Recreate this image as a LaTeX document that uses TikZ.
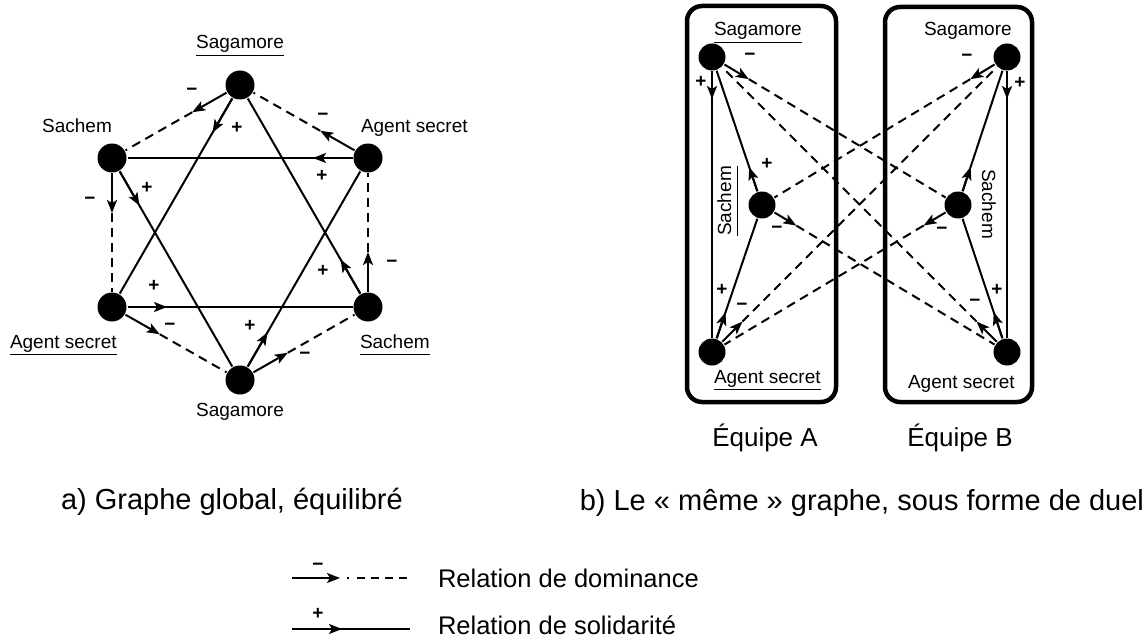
\documentclass[tikz,border=0pt]{standalone}
\usepackage{fontspec}
\setmainfont{Liberation Sans}
\usetikzlibrary{arrows.meta,calc}

% underlined label with a thick rule set just below the descenders
\newcommand{\undertext}[1]{\setbox0\hbox{#1}\leavevmode\rlap{\raisebox{-7.4pt}{\rule{\wd0}{1.8pt}}}\box0}

% dominance: short solid arrow leaving the source, dashed to the target
\newcommand{\domedge}[3]{%
  \coordinate (#1-#2) at ($(#1)!#3!(#2)$);
  \draw[arrtip] (#1) -- (#1-#2);
  \draw[dashline] (#1-#2) -- (#2);}
% solidarity: solid line with the arrow head near the source
\newcommand{\soledge}[3]{%
  \coordinate (#1-#2) at ($(#1)!#3!(#2)$);
  \draw (#1) -- (#2);
  \draw[arrtip] (#1) -- (#1-#2);}

\begin{document}
\begin{tikzpicture}[x=1pt,y=-1pt,line width=2pt,
  arrtip/.style={-{Stealth[length=13pt,width=10pt,inset=3pt]}},
  dashline/.style={dash pattern=on 9pt off 6pt},
  vtx/.style={circle,fill=black,minimum size=29pt,inner sep=0pt},
  vtxr/.style={circle,fill=black,minimum size=27pt,inner sep=0pt},
  lbl/.style={font=\fontsize{19}{22}\selectfont,inner sep=0pt},
  sgn/.style={font=\fontsize{19}{22}\selectfont\bfseries,inner sep=0pt},
  teamtxt/.style={font=\fontsize{26}{30}\selectfont,inner sep=0pt},
  captxt/.style={font=\fontsize{29}{34}\selectfont,inner sep=0pt},
  legtxt/.style={font=\fontsize{25.5}{30}\selectfont,inner sep=0pt},
  teambox/.style={line width=4.5pt,rounded corners=15pt}]
\useasboundingbox (0,0) rectangle (1147,639);

% ---------- a) global graph ----------
\node[vtx] (Sg1) at (240,85) {};
\node[vtx] (Sc1) at (112,158) {};
\node[vtx] (As1) at (368,158) {};
\node[vtx] (As2) at (112,307) {};
\node[vtx] (Sc2) at (368,307) {};
\node[vtx] (Sg2) at (240,380) {};

\domedge{Sg1}{Sc1}{55pt}
\domedge{As1}{Sg1}{55pt}
\domedge{Sc1}{As2}{55pt}
\domedge{Sc2}{As1}{55pt}
\domedge{As2}{Sg2}{55pt}
\domedge{Sg2}{Sc2}{55pt}
\soledge{Sg1}{As2}{55pt}
\soledge{As1}{Sc1}{55pt}
\soledge{Sc1}{Sg2}{55pt}
\soledge{Sc2}{Sg1}{55pt}
\soledge{As2}{Sc2}{55pt}
\soledge{Sg2}{As1}{55pt}

\node[sgn] (m1) at (192,92) {−};
\node[sgn] (p1) at (237,128) {+};
\node[sgn] (m2) at (323,117) {−};
\node[sgn] (p2) at (322,176) {+};
\node[sgn] (m3) at (90,201) {−};
\node[sgn] (p3) at (147,188) {+};
\node[sgn] (m4) at (392,264) {−};
\node[sgn] (p4) at (323,271) {+};
\node[sgn] (p5) at (154,286) {+};
\node[sgn] (m5) at (170,327) {−};
\node[sgn] (p6) at (250,326) {+};
\node[sgn] (m6) at (305,356) {−};

\node[lbl,anchor=base] (tSg1) at (240,49) {\undertext{Sagamore}};
\node[lbl,anchor=base] (tSc1) at (77,133) {Sachem};
\node[lbl,anchor=base west] (tAs1) at (360,133) {Agent secret};
\node[lbl,anchor=base west] (tAs2) at (9,348) {\undertext{Agent secret}};
\node[lbl,anchor=base west] (tSc2) at (359,348) {\undertext{Sachem}};
\node[lbl,anchor=base] (tSg2) at (240,416) {Sagamore};

% ---------- b) duel ----------
\draw[teambox] (687,6) rectangle (836,402);
\draw[teambox] (885,7) rectangle (1032,402);

\node[vtxr] (SgA) at (712,57) {};
\node[vtxr] (ScA) at (762,205) {};
\node[vtxr] (AsA) at (712,352) {};
\node[vtxr] (SgB) at (1007,57) {};
\node[vtxr] (ScB) at (958,205) {};
\node[vtxr] (AsB) at (1007,352) {};

\soledge{SgA}{AsA}{42pt}
\soledge{AsA}{ScA}{42pt}
\soledge{ScA}{SgA}{40pt}
\soledge{SgB}{AsB}{42pt}
\soledge{AsB}{ScB}{42pt}
\soledge{ScB}{SgB}{40pt}
\domedge{SgA}{ScB}{43pt}
\domedge{ScA}{AsB}{40pt}
\domedge{AsA}{SgB}{43pt}
\domedge{SgB}{ScA}{43pt}
\domedge{ScB}{AsA}{40pt}
\domedge{AsB}{SgA}{43pt}

\node[sgn] (pA1) at (701,82) {+};
\node[sgn] (mA1) at (750,57) {−};
\node[sgn] (pA2) at (767,164) {+};
\node[sgn] (mA2) at (777,230) {−};
\node[sgn] (pA3) at (722,290) {+};
\node[sgn] (mA3) at (742,307) {−};
\node[sgn] (pB1) at (1020,83) {+};
\node[sgn] (mB1) at (967,58) {−};
\node[sgn] (mB2) at (942,231) {−};
\node[sgn] (pB3) at (997,290) {+};
\node[sgn] (mB3) at (975,303) {−};

\node[lbl,anchor=base west] (tSgA) at (713,36) {\undertext{Sagamore}};
\node[lbl,anchor=base west] (tAsA) at (713,383) {\undertext{Agent secret}};
\node[lbl,rotate=90,anchor=base] (tScA) at (731,201) {\undertext{Sachem}};
\node[lbl,anchor=base west] (tSgB) at (923,36) {Sagamore};
\node[lbl,anchor=base west] (tAsB) at (907,388) {Agent secret};
\node[lbl,rotate=-90,anchor=base] (tScB) at (982,204) {Sachem};

\node[teamtxt,anchor=base] (eqA) at (765,446) {Équipe A};
\node[teamtxt,anchor=base] (eqB) at (960,446) {Équipe B};

% ---------- captions ----------
\node[captxt,anchor=base west] (capA) at (60,509) {a) Graphe global, équilibré};
\node[captxt,anchor=base east] (capB) at (1145,510) {b) Le «~même~» graphe, sous forme de duel};

% ---------- legend ----------
\coordinate (d0) at (292,578);
\coordinate (d1) at (340,578);
\coordinate (d2) at (410,578);
\draw[arrtip] (d0) -- (d1);
\draw[line width=1.6pt,dash pattern=on 0pt off 7pt on 1.5pt off 8.5pt on 8pt off 6pt on 8pt off 6pt on 8pt off 6pt on 8pt off 6pt] (d1) -- (d2);
\node[sgn] (lm) at (318,567) {−};
\node[legtxt,anchor=base west] (legD) at (437,587) {Relation de dominance};

\coordinate (s0) at (292,629);
\coordinate (s1) at (342,629);
\coordinate (s2) at (410,629);
\draw (s0) -- (s2);
\draw[arrtip] (s0) -- (s1);
\node[sgn] (lp) at (318,614) {+};
\node[legtxt,anchor=base west] (legS) at (437,634) {Relation de solidarité};
\end{tikzpicture}
\end{document}
